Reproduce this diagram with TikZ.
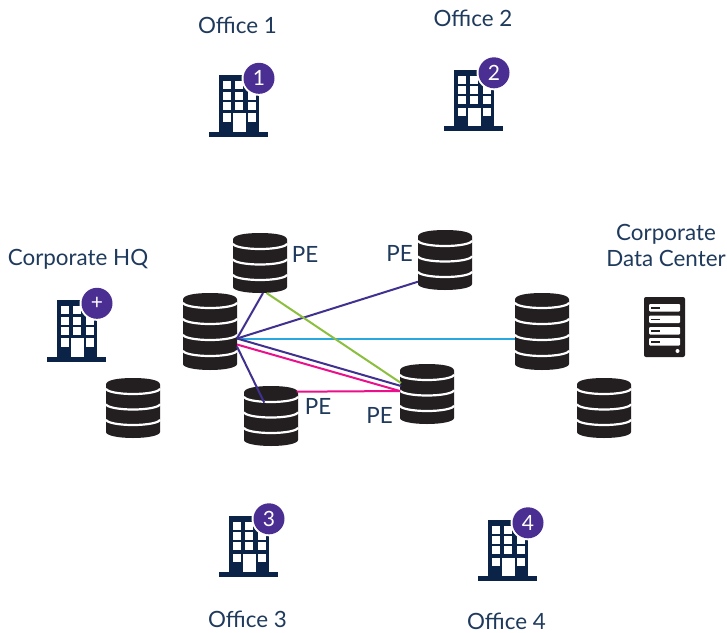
\documentclass[tikz,border=0pt]{standalone}
\usepackage{fontspec}
\setmainfont{Lato}
\definecolor{navy}{HTML}{0A2347}
\definecolor{lbl}{HTML}{1F3A5C}
\definecolor{badgec}{HTML}{4A2E91}
\definecolor{dbc}{HTML}{231F20}
\definecolor{lpurple}{HTML}{40308F}
\definecolor{lblue}{HTML}{29A8E0}
\definecolor{lgreen}{HTML}{8DBF3F}
\definecolor{lpink}{HTML}{EC0F8C}
\tikzset{
  lab/.style={font=\fontsize{22.4}{26}\selectfont,text=lbl,inner sep=0pt,align=center},
  pelab/.style={font=\fontsize{22.4}{26}\selectfont,text=lbl,inner sep=0pt},
  badgetxt/.style={font=\fontsize{21}{24}\selectfont,text=white,inner sep=0pt},
  win/.style={fill=white,draw=none},
  link/.style={line width=2pt},
  box/.style={inner sep=0pt,outer sep=0pt,draw=none,minimum width=54pt},
}
% name, x, y, height, list of arc offsets
\newcommand{\dbicon}[5]{%
  \begin{scope}[shift={(#2,#3)}]
    \fill[dbc] (0,6.5) .. controls (0,2) and (12,0) .. (27,0) .. controls (42,0) and (54,2) .. (54,6.5)
      -- (54,#4-6) .. controls (54,#4-2.5) and (42,#4) .. (27,#4) .. controls (12,#4) and (0,#4-2.5) .. (0,#4-6) -- cycle;
    \foreach \d in {#5}{
      \draw[white,line width=2.2pt] (0,\d-5.5) .. controls (0,\d-2.5) and (12,\d) .. (27,\d) .. controls (42,\d) and (54,\d-2.5) .. (54,\d-5.5);
    }
    \node[box,minimum height=#4 pt] (#1) at (27,#4/2) {};
  \end{scope}}
% name, x, y, badge text
\newcommand{\office}[4]{%
  \begin{scope}[shift={(#2,#3)}]
    \fill[navy] (0,56.7) rectangle (59,61.7);
    \fill[navy] (10,0) rectangle (50,56.7);
    \foreach \wx in {14.3,26.3,38.7}{
      \foreach \wy in {6,16.7,26.7}{
        \fill[win] (\wx,\wy) rectangle (\wx+8,\wy+8);
      }
    }
    \fill[win] (14.3,38.3) rectangle (22.3,46.7);
    \fill[win] (38.7,38.3) rectangle (46.7,46.7);
    \fill[win] (24.3,38) rectangle (36.7,56.7);
    \fill[white] (50,3.3) circle (17.5);
    \node[circle,fill=badgec,minimum size=31pt,inner sep=0pt,badgetxt] (#1) at (50,3.3) {#4};
  \end{scope}}
\begin{document}
\begin{tikzpicture}[x=1pt,y=-1pt]
\useasboundingbox (0,0) rectangle (727,632);
\fill[white] (0,0) rectangle (727,632);

% offices
\office{o1}{209}{75}{1}
\office{o2}{444}{69.5}{2}
\office{o3}{219}{515.5}{3}
\office{o4}{478}{519.5}{4}
\office{hq}{47}{300}{+}

\node[lab] (t1) at (237.5,25) {Office 1};
\node[lab] (t2) at (473,18) {Office 2};
\node[lab] (t3) at (247.5,619) {Office 3};
\node[lab] (t4) at (506.5,621) {Office 4};
\node[lab] (thq) at (78,259) {Corporate HQ};
\node[lab] (tdc) at (666,245.5) {Corporate\\Data Center};

% databases
\dbicon{pea}{233}{233}{60}{16,31.5,47}
\dbicon{peb}{418}{230}{60}{16,31.5,47}
\dbicon{hub}{183}{293}{77}{15,31,47,63}
\dbicon{pec}{244}{386}{60}{16,31.5,47}
\dbicon{ped}{400}{364}{60}{16,31.5,47}
\dbicon{far}{515}{293}{77}{15,31,47,63}
\dbicon{lowl}{106}{378}{60}{16,31.5,47}
\dbicon{lowr}{577}{378}{60}{16,31.5,47}

% server
\fill[dbc,rounded corners=2pt] (644,297) rectangle (685,357);
\foreach \sy in {304,315.5,327,338}{
  \fill[white,rounded corners=1pt] (649,\sy) rectangle (680,\sy+7.5);
  \fill[dbc] (651,\sy+3) rectangle (659.5,\sy+4.8);
}
\fill[white] (677.5,351) circle (2);
\node[inner sep=0pt,minimum width=41pt,minimum height=60pt] (srv) at (664.5,327) {};

% PE labels
\node[pelab] (la) at (305,254) {PE};
\node[pelab] (lb) at (399.5,253.5) {PE};
\node[pelab] (lc) at (318,406) {PE};
\node[pelab] (ld) at (379.5,415) {PE};

% links
\draw[link,lpurple] ([yshift=-7pt]hub.east) -- ([xshift=3pt]pea.south);
\draw[link,lpurple] ([yshift=-7pt]hub.east) -- ([yshift=-21.7pt]peb.west);
\draw[link,lblue] ([yshift=-7pt]hub.east) -- ([yshift=-7pt]far.west);
\draw[link,lgreen] ([xshift=6.5pt]pea.south) -- ([yshift=11pt,xshift=1pt]ped.west);
\draw[link,lpurple] ([yshift=-7pt]hub.east) -- ([yshift=8pt,xshift=1pt]ped.west);
\draw[link,lpink] ([yshift=-13pt]hub.east) -- ([yshift=3pt]ped.west);
\draw[link,lpink] ([xshift=-1.3pt,yshift=-5.7pt]pec.north east) -- ([yshift=3pt]ped.west);
\draw[link,lpurple] ([yshift=-15pt]hub.east) -- ([xshift=-33.7pt,yshift=-16.7pt]pec.north east);
\end{tikzpicture}
\end{document}
